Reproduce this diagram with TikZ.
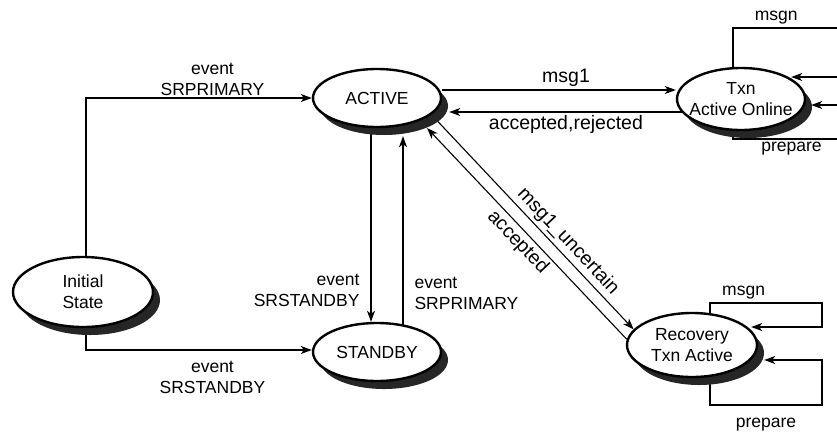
\documentclass[tikz,border=0pt]{standalone}
\usepackage{fontspec}
\setmainfont{Liberation Sans}
\usetikzlibrary{arrows.meta,shapes.geometric,shadows,backgrounds}

\tikzset{
  stateoval/.style={ellipse, draw, line width=2.4pt, fill=white, align=center,
    minimum width=128pt, minimum height=58pt, inner xsep=-7pt, inner ysep=0pt,
    font=\fontsize{17.5}{21}\selectfont,
    drop shadow={shadow xshift=7pt, shadow yshift=-8pt, fill=black!85, opacity=1}},
  trans/.style={line width=1.1pt},
  lbl/.style={font=\fontsize{17.5}{21}\selectfont, inner sep=3pt, align=center},
  lblbig/.style={lbl, font=\fontsize{19.5}{23}\selectfont},
}

\begin{document}
\begin{tikzpicture}[x=1pt, y=-1pt, >={Stealth[length=11pt,width=8pt,inset=3pt]}]
\useasboundingbox (0,0) rectangle (837,437);

% ---- states ----
\node[stateoval, minimum width=140pt, minimum height=70pt] (init) at (83,292) {Initial\\State};
\node[stateoval] (active) at (377,98) {ACTIVE};
\node[stateoval] (standby) at (377,352) {STANDBY};
\node[stateoval, minimum height=62pt] (online) at (741,99) {Txn\\Active Online};
\node[stateoval, minimum width=130pt, minimum height=64pt] (recovery) at (692,345) {Recovery\\Txn Active};

% ---- transitions (behind the states) ----
\begin{scope}[on background layer]
\clip (0,0) rectangle (837,437);

% from the initial state
\draw[trans, ->] ([xshift=3pt]init.center) |- (active.west)
  node[lbl, above=-1pt, pos=0.78] {event\\SRPRIMARY};
\draw[trans, ->] ([xshift=3pt]init.center) |- ([yshift=2pt]standby.west)
  node[lbl, below=8pt, pos=0.78] {event\\SRSTANDBY};

% ACTIVE <-> STANDBY
\draw[trans, ->] ([xshift=-6pt]active.center) -- ([xshift=-6pt]standby.north)
  node[lbl, left=8pt, align=right, pos=0.86] {event\\SRSTANDBY};
\draw[trans, ->] ([xshift=26pt]standby.center) -- ([xshift=26pt, yshift=-8pt]active.south)
  node[lbl, right=8pt, align=left, pos=0.27] {event\\SRPRIMARY};

% ACTIVE <-> Txn Active Online
\draw[trans, ->] ([yshift=8pt]active.east) -- ([yshift=8pt]active.east -| online.west)
  node[lblbig, above, pos=0.53] {msg1};
\draw[trans, ->] ([yshift=-13pt]online.center) -- ([xshift=7pt, yshift=-14pt]active.east)
  node[lblbig, below, pos=0.6] {accepted,rejected};

% loops on Txn Active Online
\draw[trans, ->] ([xshift=-8pt]online.center) |- ++(127,-71)
  node[lbl, above, pos=0.67] {msgn}
  |- ([xshift=-15pt, yshift=22pt]online.east);
\draw[trans, ->] ([xshift=-8pt]online.center) |- ++(127,40)
  node[lbl, below, pos=0.73] {prepare}
  |- ([xshift=5pt, yshift=-6pt]online.east);

% ACTIVE <-> Recovery
\draw[trans, ->] (active.-17) -- (recovery.165)
  node[lblbig, sloped, above, pos=0.63] {msg1\_uncertain};
\draw[trans, <-] ([shift={(50,30)}]active.center) -- (recovery.175)
  node[lblbig, sloped, below, pos=0.5] {accepted};

% loops on Recovery
\draw[trans, ->] ([xshift=18pt]recovery.center) |- ++(112,-42)
  node[lbl, above, pos=0.65] {msgn}
  |- ([xshift=-7pt, yshift=18pt]recovery.east);
\draw[trans, ->] ([xshift=18pt]recovery.center) |- ++(112,60)
  node[lbl, below=10pt, pos=0.75] {prepare}
  |- ([xshift=6pt, yshift=-15pt]recovery.east);
\end{scope}

\end{tikzpicture}
\end{document}
